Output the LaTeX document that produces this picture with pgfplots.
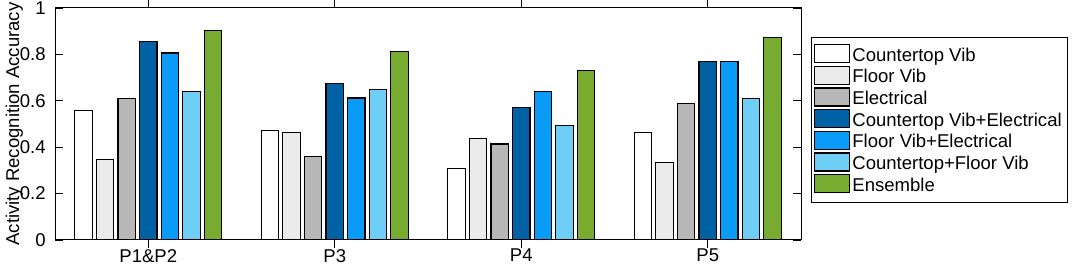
\documentclass[border=0pt]{standalone}
\usepackage{fontspec}
\setmainfont{Liberation Sans}
\usepackage{pgfplots}
\pgfplotsset{compat=1.18}
\definecolor{cWhite}{RGB}{255,255,255}
\definecolor{cFloor}{RGB}{235,235,235}
\definecolor{cElec}{RGB}{183,183,183}
\definecolor{cDark}{RGB}{0,98,165}
\definecolor{cBlue}{RGB}{10,155,247}
\definecolor{cLight}{RGB}{110,206,246}
\definecolor{cGreen}{RGB}{120,172,48}
\begin{document}
\begin{tikzpicture}
\path[use as bounding box] (-41.25pt,-20.25pt) rectangle (764.25pt,180pt);
\begin{axis}[
  at={(0,0)}, anchor=south west,
  scale only axis, width=559.5pt, height=174pt,
  xmin=0.5, xmax=4.5, ymin=0, ymax=1,
  xtick={1,2,3,4}, xticklabels={P1\&P2,P3,P4,P5},
  ytick={0,0.2,0.4,0.6,0.8,1},
  tick align=inside, major tick length=5.8pt,
  tick style={black, line width=0.6pt},
  axis line style={black, line width=0.75pt},
  /pgf/number format/assume math mode=true,
  ticklabel style={font=\fontsize{13.9}{16}\selectfont},
  yticklabel style={xshift=-3.5pt},
  xticklabel style={yshift=2.5pt},
  ylabel={Activity Recognition Accuracy},
  ylabel style={font=\fontsize{13.9}{16}\selectfont, at={(axis description cs:-0.0545,0.5)}, anchor=center},
  ybar=3.2pt, bar width=13pt,
  legend style={at={(rel axis cs:1.013,0.875)}, anchor=north west, draw=black, line width=0.75pt,
    font=\fontsize{13.9}{16}\selectfont, row sep=0pt, inner xsep=2pt, inner ysep=5pt},
  legend cell align=left,
  legend image code/.code={\draw[#1, draw=black, line width=0.9pt] (0pt,-5.5pt) rectangle (26pt,8pt);},
]
\addplot[draw=black, line width=0.9pt, fill=cWhite] coordinates {(1,0.557) (2,0.472) (3,0.309) (4,0.462)};
\addplot[draw=black, line width=0.9pt, fill=cFloor] coordinates {(1,0.347) (2,0.463) (3,0.439) (4,0.334)};
\addplot[draw=black, line width=0.9pt, fill=cElec] coordinates {(1,0.609) (2,0.360) (3,0.414) (4,0.590)};
\addplot[draw=black, line width=0.9pt, fill=cDark] coordinates {(1,0.856) (2,0.673) (3,0.571) (4,0.770)};
\addplot[draw=black, line width=0.9pt, fill=cBlue] coordinates {(1,0.806) (2,0.612) (3,0.640) (4,0.770)};
\addplot[draw=black, line width=0.9pt, fill=cLight] coordinates {(1,0.640) (2,0.649) (3,0.492) (4,0.610)};
\addplot[draw=black, line width=0.9pt, fill=cGreen] coordinates {(1,0.904) (2,0.814) (3,0.729) (4,0.873)};
\legend{Countertop Vib,Floor Vib,Electrical,Countertop Vib+Electrical,Floor Vib+Electrical,Countertop+Floor Vib,Ensemble}
\end{axis}
\end{tikzpicture}
\end{document}
